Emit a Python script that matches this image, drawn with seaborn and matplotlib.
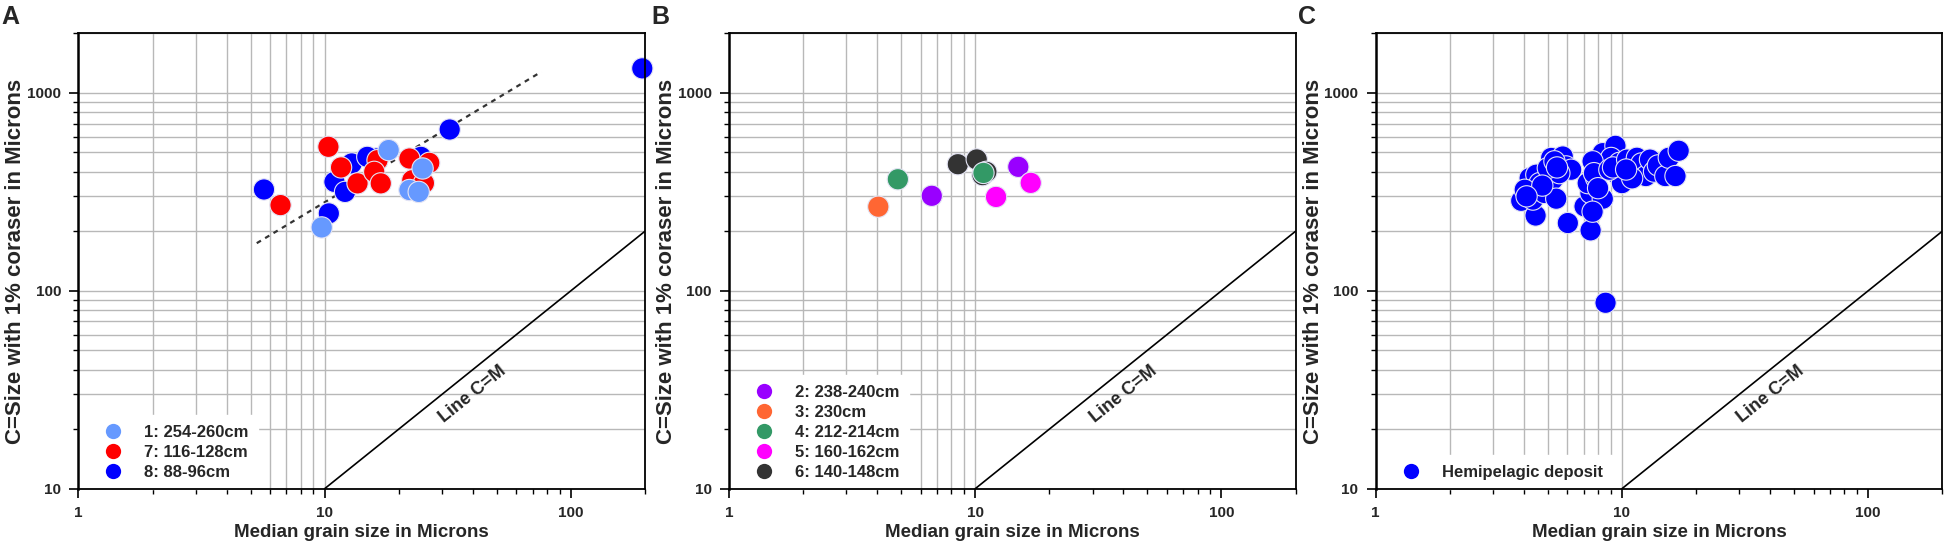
import numpy as np
import pandas as pd
import matplotlib
matplotlib.use('Agg')
import matplotlib.pyplot as plt
from matplotlib.lines import Line2D
from matplotlib.ticker import FixedLocator, FuncFormatter, NullFormatter, LogLocator
import seaborn as sns

# --- data (median grain size, C = 1% coarser size) ---
# Panel A
a_8_x = [5.67, 10.96, 12.88, 12.1, 16.2, 14.9, 24.6, 10.4, 32.2, 195]
a_8_y = [325, 355, 440, 316, 466, 475, 475, 246, 653, 1330]
a_7_x = [6.62, 10.36, 11.66, 13.6, 16.4, 15.9, 16.9, 22.1, 26.6, 22.7, 25.3]
a_7_y = [271, 534, 420, 349, 457, 399, 349, 466, 443, 362, 350]
a_1_x = [18.2, 25.0, 22.1, 24.1, 9.73]
a_1_y = [514, 415, 323, 316, 209]
fit_x = [5.3, 76]
fit_y = [174, 1280]

# Panel B
b_2_x = [6.66, 14.96]
b_2_y = [302, 423]
b_3_x = [4.04]
b_3_y = [266]
b_4_x = [4.85, 10.8]
b_4_y = [366, 394]
b_5_x = [12.15, 16.8]
b_5_y = [298, 351]
b_6_x = [8.5, 10.14, 10.7, 11.1]
b_6_y = [436, 461, 384, 399]

# Panel C (hemipelagic deposit)
c_x = [3.90, 4.46, 4.22, 4.49, 4.35, 4.85, 4.63, 5.24, 5.41, 5.16, 5.75, 5.93,
       6.22, 5.57, 5.00, 4.03, 5.32, 4.75, 5.45, 4.10,
       6.03, 7.46, 8.58,
       7.05, 7.45, 8.36, 7.60, 7.26, 7.85, 8.09, 8.36, 9.41, 9.04, 9.77, 9.62,
       10.0, 7.6, 7.7, 8.89, 8.0, 9.2,
       10.5, 11.0, 11.5, 12.0, 12.5, 13.0, 13.5, 14.0, 15.0, 15.5, 16.5, 17.0,
       11.0, 10.4]
c_y = [285, 240, 371, 386, 289, 312, 350, 365, 292, 469, 477, 425,
       409, 393, 417, 324, 451, 340, 420, 300,
       220, 202, 87,
       267, 312, 292, 251, 350, 371, 417, 496, 540, 469, 443, 386,
       350, 451, 393, 409, 330, 420,
       460, 420, 470, 440, 380, 460, 400, 430, 380, 470, 380, 510,
       370, 410]

cm_line = [10, 200]

labels_a = ['1: 254-260cm', '7: 116-128cm', '8: 88-96cm']
labels_b = ['2: 238-240cm', '3: 230cm', '4: 212-214cm', '5: 160-162cm', '6: 140-148cm']
labels_c = ['Hemipelagic deposit']

colors_a = ['#6699FF', '#FF0000', '#0000FF']
colors_b = ['#9900FF', '#FF6633', '#339966', '#FF00FF', '#333333']
colors_c = ['#0000FF']

# draw order (first = bottom)
df_a = pd.concat([
    pd.DataFrame({'m': a_8_x, 'c': a_8_y, 'g': labels_a[2]}),
    pd.DataFrame({'m': a_7_x, 'c': a_7_y, 'g': labels_a[1]}),
    pd.DataFrame({'m': a_1_x, 'c': a_1_y, 'g': labels_a[0]}),
])
df_b = pd.concat([
    pd.DataFrame({'m': b_6_x, 'c': b_6_y, 'g': labels_b[4]}),
    pd.DataFrame({'m': b_2_x, 'c': b_2_y, 'g': labels_b[0]}),
    pd.DataFrame({'m': b_3_x, 'c': b_3_y, 'g': labels_b[1]}),
    pd.DataFrame({'m': b_4_x, 'c': b_4_y, 'g': labels_b[2]}),
    pd.DataFrame({'m': b_5_x, 'c': b_5_y, 'g': labels_b[3]}),
])
df_c = pd.DataFrame({'m': c_x, 'c': c_y, 'g': labels_c[0]})

sns.set_theme(style='ticks')
plt.rcParams['font.family'] = ['Liberation Sans', 'DejaVu Sans']
plt.rcParams['font.weight'] = 'bold'
plt.rcParams['axes.labelweight'] = 'bold'

GRID = '#b8b8b8'
W, H = 1949, 547
fig = plt.figure(figsize=(W / 100, H / 100), dpi=100)

panel_left = [78.4, 729.0, 1375.7]
ax_w, ax_bot, ax_top = 566.6, 488.7, 33.3


def draw_panel(ax, df, labels, colors, letter, left_px):
    pal = dict(zip(labels, colors))
    sns.scatterplot(data=df, x='m', y='c', hue='g', palette=pal, s=235,
                    edgecolor='#e4e4f4', linewidth=0.8, legend=False,
                    ax=ax, clip_on=False, zorder=3)
    ax.set_xscale('log')
    ax.set_yscale('log')
    ax.set_xlim(1, 200)
    ax.set_ylim(10, 2000)

    # line C=M
    ax.plot(cm_line, cm_line, color='black', lw=1.2, zorder=2)
    ang = np.degrees(np.arctan((ax_bot - ax_top) / ax_w))
    ax.text(40, 30, 'Line C=M', rotation=ang, rotation_mode='anchor',
            ha='center', va='center', fontsize=13, fontweight='bold')

    # grid: horizontal on every decade step, vertical only 2..10
    ax.grid(axis='y', which='both', color=GRID, lw=1.0, zorder=0.5)
    for gx in range(2, 11):
        ax.axvline(gx, color=GRID, lw=1.0, zorder=0.5)
    ax.set_axisbelow(True)

    ax.xaxis.set_major_locator(FixedLocator([1, 10, 100]))
    ax.yaxis.set_major_locator(FixedLocator([10, 100, 1000]))
    ax.xaxis.set_minor_locator(LogLocator(subs=np.arange(2, 10)))
    ax.yaxis.set_minor_locator(LogLocator(subs=np.arange(2, 10)))
    fmt = FuncFormatter(lambda v, p: '%g' % v)
    ax.xaxis.set_major_formatter(fmt)
    ax.yaxis.set_major_formatter(fmt)
    ax.xaxis.set_minor_formatter(NullFormatter())
    ax.yaxis.set_minor_formatter(NullFormatter())
    ax.tick_params(which='major', direction='out', length=6.5, width=1.2,
                   labelsize=11, color='black', pad=6)
    ax.tick_params(which='minor', direction='out', length=3.6, width=1.0,
                   color='black')
    for lab in ax.get_xticklabels() + ax.get_yticklabels():
        lab.set_fontweight('bold')
    for sp in ax.spines.values():
        sp.set_color('black')
        sp.set_linewidth(1.3)
        sp.set_zorder(4)
    ax.spines['left'].set_linewidth(1.8)

    ax.set_xlabel('Median grain size in Microns', fontsize=13.5, labelpad=3)
    ax.set_ylabel('C=Size with 1% coraser in Microns', fontsize=16)
    ax.yaxis.set_label_coords(-52 / ax_w, 0.5)

    handles = [Line2D([], [], marker='o', ls='', color=c, markersize=11,
                      markeredgewidth=0) for c in colors]
    leg = ax.legend(handles, labels, loc='lower left', bbox_to_anchor=(0, 0),
                    borderaxespad=0, frameon=True, fancybox=False,
                    facecolor='white', edgecolor='white', framealpha=1,
                    prop={'weight': 'bold', 'size': 12},
                    borderpad=0.55, handlelength=3.1, handletextpad=0.3,
                    labelspacing=0.3)
    leg.set_zorder(2)

    fig.text((left_px - 78.4 + 1) / W, 1 - 24 / H, letter, fontsize=18,
             fontweight='bold', ha='left', va='baseline')


for df, labels, colors, letter, lp in [
        (df_a, labels_a, colors_a, 'A', panel_left[0]),
        (df_b, labels_b, colors_b, 'B', panel_left[1]),
        (df_c, labels_c, colors_c, 'C', panel_left[2])]:
    ax = fig.add_axes([lp / W, (H - ax_bot) / H, ax_w / W, (ax_bot - ax_top) / H])
    draw_panel(ax, df, labels, colors, letter, lp)
    if letter == 'A':
        ax.plot(fit_x, fit_y, color='#333333', lw=1.6, ls=(0, (2.2, 2.2)), zorder=2)

fig.savefig('out.png', dpi=100)
